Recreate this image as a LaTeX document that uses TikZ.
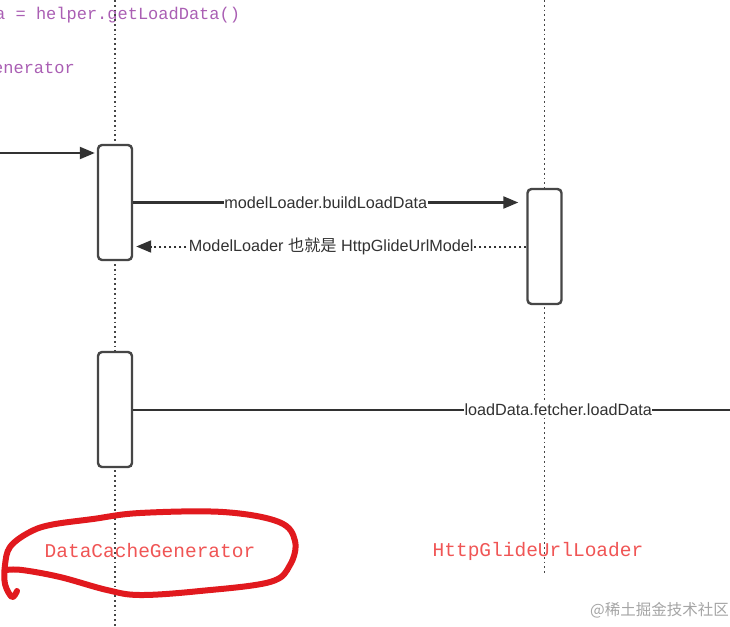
\documentclass[tikz,border=0pt]{standalone}
\usepackage{fontspec}
\usepackage{xcolor}
\usepackage{tikz}
\usetikzlibrary{arrows.meta,positioning}
\newfontfamily\codefont{Liberation Mono}
\newfontfamily\labelfont{Liberation Sans}
\newfontfamily\cjkfont{Noto Sans CJK SC}
\definecolor{linegray}{RGB}{50,50,50}
\definecolor{boxgray}{RGB}{70,70,70}
\definecolor{codepurple}{RGB}{170,95,180}
\definecolor{namered}{RGB}{240,85,85}
\definecolor{markred}{RGB}{225,25,30}
\definecolor{markgray}{RGB}{165,165,165}

\begin{document}
\begin{tikzpicture}[x=1pt, y=-1pt,
    every node/.style={inner sep=0pt},
    lifeline/.style={draw=boxgray, line width=1.8pt, dash pattern=on 1.8pt off 3pt},
    actbox/.style={draw=boxgray, fill=white, line width=2.4pt, rounded corners=4pt,
                   minimum width=34pt, minimum height=115pt},
    call/.style={draw=linegray, line width=2.2pt, -{Triangle[length=15pt,width=12pt]}},
    reply/.style={draw=linegray, line width=2pt, dash pattern=on 2pt off 3pt,
                  -{Triangle[length=15pt,width=12pt]}},
    plain/.style={draw=linegray, line width=2pt},
    msg/.style={fill=white, text=linegray, font=\labelfont\fontsize{16.2}{19}\selectfont,
                inner xsep=0.5pt, inner ysep=2pt},
    code/.style={text=codepurple, font=\codefont\fontsize{17}{20}\selectfont, anchor=west},
    objname/.style={text=namered, font=\codefont\fontsize{19.5}{22}\selectfont},
    redmark/.style={draw=markred, line width=6pt, line cap=round, line join=round},
]
    \fill[white] (0,0) rectangle (730,626);
    \useasboundingbox (0,0) rectangle (730,626);

    % code fragments at the top
    \node[code] (getdata) at (-5,15) {a = helper.getLoadData()};
    \node[code] (gentail) at (-7,68) {enerator};

    % lifelines
    \coordinate (dcgTop) at (115,0);
    \coordinate (dcgBot) at (115,626);
    \coordinate (hgTop) at (544.5,0);
    \coordinate (hgBot) at (544.5,575);
    \draw[lifeline] (dcgTop) -- (dcgBot);
    \draw[lifeline] (hgTop) -- (hgBot);

    % activation boxes
    \node[actbox] (dcg1) at (115,202.5) {};
    \node[actbox] (hg1) at (544.5,246.5) {};
    \node[actbox] (dcg2) at (115,409.5) {};

    % messages
    \coordinate (entry) at (-3,153);
    \draw[call] (entry) -- ([xshift=-2pt]entry -| dcg1.west);
    \draw[call] (dcg1.east) -- node[msg] {modelLoader.buildLoadData}
        ([xshift=-8pt]hg1.west |- dcg1.east);
    \draw[reply] (hg1.west) -- node[msg] {ModelLoader {\cjkfont 也就是} HttpGlideUrlModel}
        ([xshift=3pt]dcg1.east |- hg1.west);
    \coordinate (exit) at (736,409.5);
    \draw[plain] (dcg2.east) -- node[msg, pos=0.705] {loadData.fetcher.loadData} (exit);

    % object names
    \node[objname] (dcgname) at (150,551) {DataCacheGenerator};
    \node[objname] (hgname) at (538,551) {HttpGlideUrlLoader};

    % hand drawn red loop
    \draw[redmark] plot[smooth, tension=0.6] coordinates {
        (17,591) (12,597) (5,584) (5,565) (10,547) (28,533) (50,525) (93,519)
        (140,513) (223,512) (279,522) (295,541) (290,565) (270,582) (200,591)
        (140,595) (107,590) (60,577) (22,570) (6,570)};

    % watermark
    \node[text=markgray, font=\cjkfont\fontsize{15.5}{18}\selectfont, anchor=east]
        (mark) at (729,610) {@稀土掘金技术社区};
\end{tikzpicture}
\end{document}
